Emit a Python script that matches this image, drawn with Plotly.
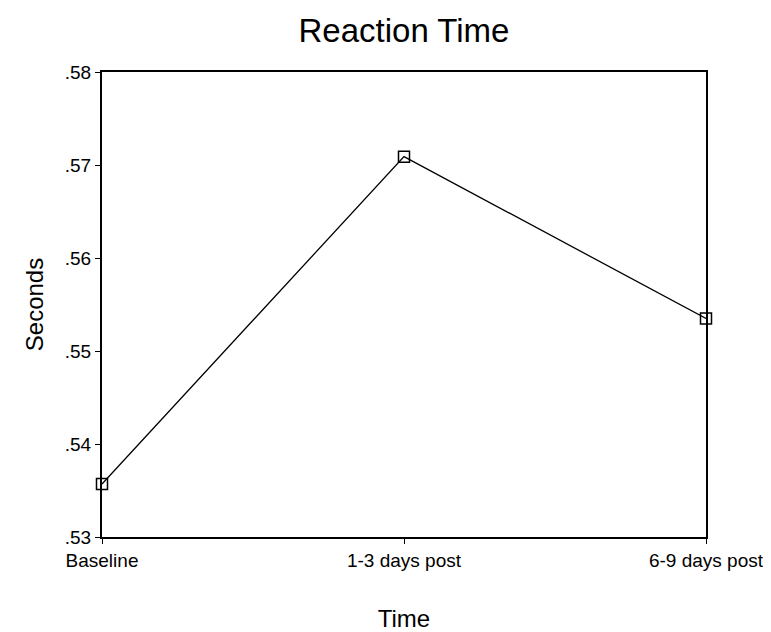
import plotly.graph_objects as go

categories = ["Baseline", "1-3 days post", "6-9 days post"]
seconds = [0.5357, 0.5709, 0.5535]
y_tick_vals = [0.53, 0.54, 0.55, 0.56, 0.57, 0.58]
y_tick_text = [".53", ".54", ".55", ".56", ".57", ".58"]

font_family = "Liberation Sans, Arial, sans-serif"

fig = go.Figure()
fig.add_trace(go.Scatter(
    x=categories, y=seconds, mode="lines+markers",
    line=dict(color="black", width=1.3),
    marker=dict(symbol="square-open", size=11, color="black", line=dict(width=1.5)),
    showlegend=False, cliponaxis=False,
))

fig.update_layout(
    width=771, height=632,
    margin=dict(l=94, r=73, t=64, b=98),
    paper_bgcolor="white", plot_bgcolor="white",
    font=dict(family=font_family, color="black"),
    title=dict(text="Reaction Time", x=0.5, xref="paper", xanchor="center",
               y=1 - 22 / 632, yref="container", yanchor="middle",
               font=dict(size=33, family=font_family, color="black")),
    xaxis=dict(
        type="category", categoryorder="array", categoryarray=categories,
        range=[0, 2], showgrid=False, zeroline=False,
        showline=True, linecolor="black", linewidth=2, mirror=True,
        ticks="outside", ticklen=5, tickwidth=1, tickcolor="black",
        tickfont=dict(size=19, family=font_family),
        title=dict(text="Time", font=dict(size=24, family=font_family), standoff=40),
    ),
    yaxis=dict(
        range=[0.53, 0.58], tickvals=y_tick_vals, ticktext=y_tick_text,
        showgrid=False, zeroline=False,
        showline=True, linecolor="black", linewidth=2, mirror=True,
        ticks="outside", ticklen=5, tickwidth=1, tickcolor="black",
        tickfont=dict(size=19, family=font_family),
        title=dict(text="Seconds", font=dict(size=24, family=font_family), standoff=14),
    ),
)

fig.write_html("out.html")
